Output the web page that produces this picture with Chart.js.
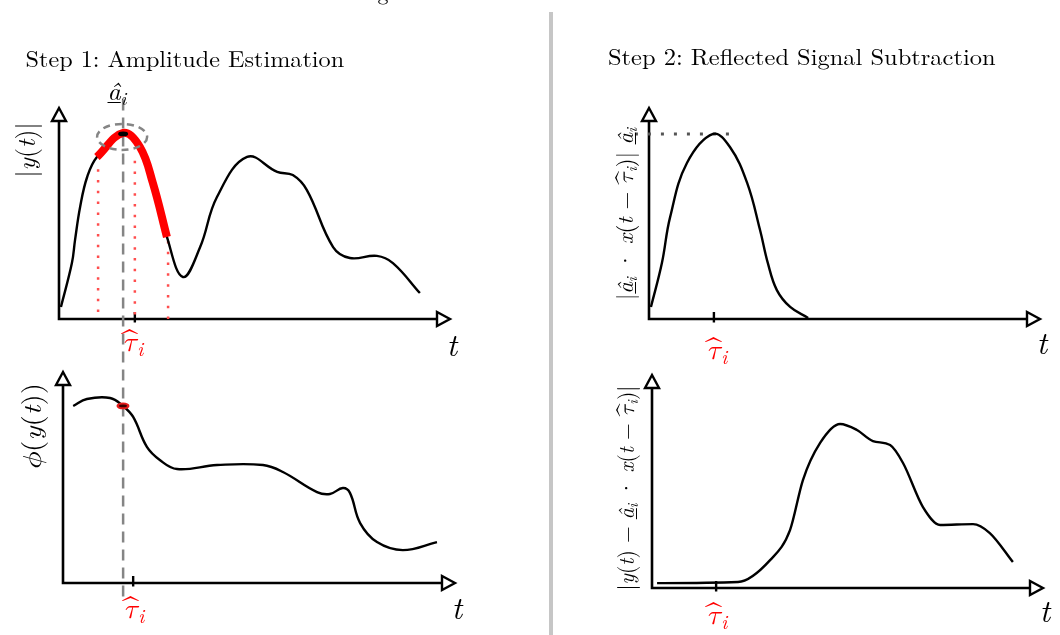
<!DOCTYPE html>
<html><head><meta charset="utf-8">
<script src="https://cdn.jsdelivr.net/npm/chart.js@4.4.1/dist/chart.umd.min.js"></script>
<style>
html,body{margin:0;padding:0;background:#fff;width:1060px;height:635px;overflow:hidden;position:relative;}
canvas{position:absolute;left:0;top:0;}
.lab{position:absolute;font-family:"Latin Modern Roman","Latin Modern Math","Liberation Serif",serif;color:#000;white-space:nowrap;line-height:1;}
.lab .in{position:absolute;left:0;top:0;transform-origin:0 0;white-space:nowrap;}
.it{font-style:italic;}
.red{color:#ff0000;}
.hb{position:relative;display:inline-block;font-style:italic;}
.hh{position:absolute;left:50%;top:-0.12em;transform:translateX(-50%) scaleX(2.0);font-style:normal;}
.u{text-decoration:underline;text-decoration-thickness:1px;text-underline-offset:2px;}
sub{font-size:0.7em;vertical-align:-0.25em;line-height:0;}
#div{position:absolute;left:549px;top:12px;width:4px;height:623px;background:#c6c6c6;}
</style></head><body>
<canvas id="c1" width="1060" height="635"></canvas>
<canvas id="c2" width="1060" height="635"></canvas>
<canvas id="c3" width="1060" height="635"></canvas>
<canvas id="c4" width="1060" height="635"></canvas>
<div id="div"></div>
<div id="labels"></div>
<script>
// ---------- data ----------
// Panel 1: |y(t)|
const ampT = [0.5, 3.3, 4.1, 5.4, 7.2, 9.7, 16.4, 20.7, 24.0, 27.6, 31.7, 36.1, 40.4, 48.1, 55.8, 59.8, 63.4, 70.1, 74.4, 81.3, 85.4, 92.3];
const ampY = [5.7, 26.5, 37.4, 53.1, 67.3, 76.8, 88.2, 81.5, 64.5, 38.9, 19.9, 34.1, 57.8, 76.8, 69.7, 68.2, 61.1, 34.1, 28.9, 29.9, 26.5, 12.3];
const windowT = [9.7, 27.6];            // highlighted (red) window
const probeT = [10.0, 19.4, 27.9];      // red dotted probes
const probeY = [71, 75, 37];
const peakT = 16.4, peakY = 88.2;       // amplitude estimate location
// Panel 2: phase
const phaseT = [2.6, 6.1, 12.0, 15.3, 17.9, 21.4, 24.7, 29.1, 39.3, 51.0, 56.1, 64.8, 68.1, 71.4, 73.2, 75.8, 80.1, 86.7, 95.4];
const phaseY = [83.9, 87.2, 87.7, 83.9, 78.7, 64.5, 58.3, 54.0, 55.9, 55.9, 52.6, 43.1, 42.2, 45.0, 42.7, 28.4, 19.4, 15.6, 19.4];
const phaseMarkT = 15.3;
// Panel 3: reflected echo
const echoT = [0.5, 3.3, 5.4, 9.7, 16.4, 20.7, 25.1, 28.4, 30.4, 32.7, 36.1, 40.7];
const echoY = [5.7, 26.5, 48.3, 73.9, 87.7, 81.5, 64.5, 42.2, 26.5, 13.7, 5.7, 0.5];
const echoLevelT = [-3.6, 20.7];
// Panel 4: residual
const residT = [1.3, 22.0, 30.2, 35.3, 38.6, 43.0, 48.1, 52.4, 56.5, 60.9, 64.2, 69.3, 73.7, 82.1, 86.4, 92.3];
const residY = [2.3, 2.8, 13.1, 27.2, 50.7, 68.1, 77.0, 74.2, 69.0, 67.1, 58.7, 38.0, 29.6, 30.0, 25.8, 12.2];
// tau-hat tick per panel
const tauTicks = [19.4, 17.9, 16.6, 16.4];

// ---------- helpers ----------
const pts = (T, Y) => T.map((t, i) => ({x: t, y: Y[i]}));
const curve = (T, Y, extra) => Object.assign({data: pts(T, Y), borderColor: '#000', borderWidth: 2.4,
  tension: 0.4, fill: false, order: 2}, extra || {});

function axisPlugin(tickT, extraDraw) {
  return {
    id: 'arrowAxes',
    beforeDatasetsDraw(chart) {
      const ctx = chart.ctx, xs = chart.scales.x, ys = chart.scales.y;
      const x0 = xs.getPixelForValue(0), y0 = ys.getPixelForValue(0);
      const x1 = xs.getPixelForValue(100), y1 = ys.getPixelForValue(100);
      ctx.save();
      ctx.strokeStyle = '#000'; ctx.lineWidth = 2.6; ctx.lineCap = 'butt';
      ctx.beginPath();
      ctx.moveTo(x1 - 13, y0); ctx.lineTo(x0 - 1.3, y0);
      ctx.moveTo(x0, y0 + 1.3); ctx.lineTo(x0, y1 + 13);
      ctx.stroke();
      // tick
      const tx = xs.getPixelForValue(tickT);
      ctx.lineWidth = 2.4;
      ctx.beginPath(); ctx.moveTo(tx, y0 - 7); ctx.lineTo(tx, y0 + 3.5); ctx.stroke();
      // arrow heads (open triangles)
      ctx.fillStyle = '#fff'; ctx.lineWidth = 2.4; ctx.lineJoin = 'miter';
      ctx.beginPath();
      ctx.moveTo(x1, y0); ctx.lineTo(x1 - 13, y0 - 7); ctx.lineTo(x1 - 13, y0 + 7); ctx.closePath();
      ctx.fill(); ctx.stroke();
      ctx.beginPath();
      ctx.moveTo(x0, y1); ctx.lineTo(x0 - 7, y1 + 13); ctx.lineTo(x0 + 7, y1 + 13); ctx.closePath();
      ctx.fill(); ctx.stroke();
      ctx.restore();
    },
    afterDatasetsDraw(chart) { if (extraDraw) extraDraw(chart); }
  };
}

function makeChart(id, origin, tip, datasets, tickT, extraDraw) {
  return new Chart(document.getElementById(id), {
    type: 'line',
    data: {datasets},
    options: {
      responsive: false, animation: false, devicePixelRatio: 1, events: [],
      layout: {padding: {left: origin[0], top: tip[1], right: 1060 - tip[0], bottom: 635 - origin[1]}},
      scales: {
        x: {type: 'linear', min: 0, max: 100, display: false},
        y: {type: 'linear', min: 0, max: 100, display: false}
      },
      plugins: {legend: {display: false}, tooltip: {enabled: false}, title: {display: false}},
      elements: {point: {radius: 0, hoverRadius: 0}, line: {borderCapStyle: 'butt'}}
    },
    plugins: [axisPlugin(tickT, extraDraw)]
  });
}

// ---------- panel 1 ----------
const redWin = pts(ampT, ampY).filter(p => p.x >= windowT[0] && p.x <= windowT[1]);
const ds1 = [
  {data: redWin, borderColor: '#ff0000', borderWidth: 8, tension: 0.4, order: 1},
  curve(ampT, ampY),
  {data: [{x: peakT, y: 104}, {x: peakT, y: -132}], borderColor: '#858585', borderWidth: 2.5,
   borderDash: [11, 7], clip: false, order: 3}
];
probeT.forEach((t, i) => ds1.push({data: [{x: t, y: probeY[i]}, {x: t, y: 0}], borderColor: '#ff4d4d',
  borderWidth: 2.5, borderDash: [2.5, 8.3], order: 4}));
makeChart('c1', [59, 319], [450, 108], ds1, tauTicks[0], chart => {
  const ctx = chart.ctx, px = chart.scales.x.getPixelForValue(peakT), py = chart.scales.y.getPixelForValue(peakY);
  ctx.save();
  ctx.strokeStyle = '#858585'; ctx.lineWidth = 2.5; ctx.setLineDash([7, 5]);
  ctx.beginPath(); ctx.ellipse(px - 1, py + 4, 25, 13, 0, 0, Math.PI * 2); ctx.stroke();
  ctx.setLineDash([]); ctx.fillStyle = '#000';
  ctx.beginPath(); ctx.ellipse(px, py + 1, 5, 2.3, 0, 0, Math.PI * 2); ctx.fill();
  ctx.restore();
});

// ---------- panel 2 ----------
makeChart('c2', [63, 583], [455, 372], [curve(phaseT, phaseY)], tauTicks[1], chart => {
  const i = phaseT.indexOf(phaseMarkT);
  const ctx = chart.ctx, px = chart.scales.x.getPixelForValue(phaseT[i]), py = chart.scales.y.getPixelForValue(phaseY[i]);
  ctx.save();
  ctx.fillStyle = '#e41a1a';
  ctx.beginPath(); ctx.ellipse(px, py, 6.5, 3.4, 0, 0, Math.PI * 2); ctx.fill();
  ctx.fillStyle = '#3a0000';
  ctx.beginPath(); ctx.ellipse(px, py, 4, 1.4, 0, 0, Math.PI * 2); ctx.fill();
  ctx.restore();
});

// ---------- panel 3 ----------
const echoPeak = Math.max(...echoY);
makeChart('c3', [649, 319], [1040, 108], [
  curve(echoT, echoY),
  {data: [{x: echoLevelT[0], y: echoPeak}, {x: echoLevelT[1], y: echoPeak}], borderColor: '#555',
   borderWidth: 3, borderDash: [3, 10], clip: false, order: 3}
], tauTicks[2]);

// ---------- panel 4 ----------
makeChart('c4', [652, 588], [1043, 375], [curve(residT, residY, {tension: 0, cubicInterpolationMode: 'monotone'})], tauTicks[3]);

// ---------- text ----------
const tau = '<span class="hb">τ<span class="hh">ˆ</span></span>';
const ahat = '<span class="it u">â</span>';
const labels = [
  // [html, cx, cy, fontPx, targetWidth|null, rotated, class]
  ['g', 383, -9, 22, null, false, ''],
  ['Step 1: Amplitude Estimation', 184.5, 57, 23, 319, false, ''],
  ['Step 2: Reflected Signal Subtraction', 802, 55, 23, 388, false, ''],
  [ahat + '<sub class="it">i</sub>', 117, 90, 26, null, false, ''],
  ['|<span class="it">y</span>(<span class="it">t</span>)|', 25, 150, 26, 55, true, ''],
  ['<span class="it">ϕ</span>(<span class="it">y</span>(<span class="it">t</span>))', 31, 427, 26, 87, true, ''],
  ['|' + ahat + '<sub class="it">i</sub> · <span class="it">x</span>(<span class="it">t</span> − ' + tau + '<sub class="it">i</sub>)| ' + ahat + '<sub class="it">i</sub>', 624, 214, 22, 172, true, ''],
  ['|<span class="it">y</span>(<span class="it">t</span>) − ' + ahat + '<sub class="it">i</sub> · <span class="it">x</span>(<span class="it">t</span> − ' + tau + '<sub class="it">i</sub>)|', 625, 488, 22, 205, true, ''],
  [tau + '<sub class="it">i</sub>', 133, 339, 28, null, false, 'red'],
  [tau + '<sub class="it">i</sub>', 134, 606, 28, null, false, 'red'],
  [tau + '<sub class="it">i</sub>', 717, 347, 28, null, false, 'red'],
  [tau + '<sub class="it">i</sub>', 717, 612, 28, null, false, 'red'],
  ['<span class="it">t</span>', 452, 343, 32, null, false, ''],
  ['<span class="it">t</span>', 457, 606, 32, null, false, ''],
  ['<span class="it">t</span>', 1042, 341, 32, null, false, ''],
  ['<span class="it">t</span>', 1045, 609, 32, null, false, '']
];
const host = document.getElementById('labels');
labels.forEach(([html, cx, cy, fs, tw, rot, cls]) => {
  const d = document.createElement('div');
  d.className = 'lab ' + cls;
  d.style.left = cx + 'px'; d.style.top = cy + 'px'; d.style.fontSize = fs + 'px';
  const s = document.createElement('span');
  s.className = 'in'; s.innerHTML = html;
  d.appendChild(s); host.appendChild(d);
  const w = s.offsetWidth, h = s.offsetHeight;
  const k = tw ? tw / w : 1;
  s.style.transform = (rot ? 'rotate(-90deg) ' : '') + `translate(${-w * k / 2}px, ${-h / 2}px) scale(${k},1)`;
});
</script>
</body></html>
